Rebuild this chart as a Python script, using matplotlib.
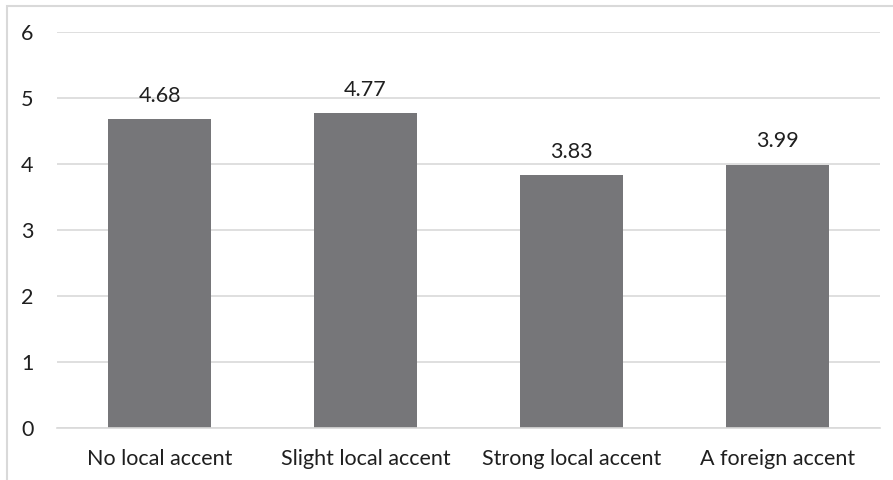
import matplotlib.pyplot as plt
from matplotlib.patches import Rectangle

# mean rating per accent condition
categories = ['No local accent', 'Slight local accent', 'Strong local accent', 'A foreign accent']
ratings = [4.68, 4.77, 3.83, 3.99]
y_ticks = [0, 1, 2, 3, 4, 5, 6]

plt.rcParams['font.family'] = ['Lato', 'DejaVu Sans']

fig = plt.figure(figsize=(8.93, 4.80), dpi=100)
W, H = 893, 480
ax = fig.add_axes([57 / W, 1 - 428 / H, (880 - 57) / W, (428 - 32) / H])

x = range(len(categories))
bars = ax.bar(x, ratings, width=0.5, color='#767679', zorder=2)
for b, v in zip(bars, ratings):
    ax.annotate(f'{v:.2f}', (b.get_x() + b.get_width() / 2, v),
                xytext=(0, 17), textcoords='offset points',
                ha='center', va='center', fontsize=15.5, color='#1f1f1f')

ax.set_xlim(-0.5, len(categories) - 0.5)
ax.set_ylim(0, 6)
ax.set_yticks(y_ticks)
ax.set_xticks(list(x))
ax.set_xticklabels(categories)
ax.tick_params(axis='both', length=0, labelsize=15.5, labelcolor='#1f1f1f')
ax.tick_params(axis='y', pad=17)
ax.tick_params(axis='x', pad=15)
ax.grid(axis='y', color='#d9d9d9', linewidth=1.2, zorder=0)
for s in ['top', 'right', 'left']:
    ax.spines[s].set_visible(False)
ax.spines['bottom'].set_color('#d9d9d9')
ax.spines['bottom'].set_linewidth(1.2)

# chart frame (only top and left edges fall inside the canvas)
fig.patches.append(Rectangle((7 / W, -0.1), 1.2, 1 - 6 / H + 0.1,
                             transform=fig.transFigure, fill=False,
                             edgecolor='#d9d9d9', linewidth=1.5))

fig.savefig('out.png', dpi=100)
